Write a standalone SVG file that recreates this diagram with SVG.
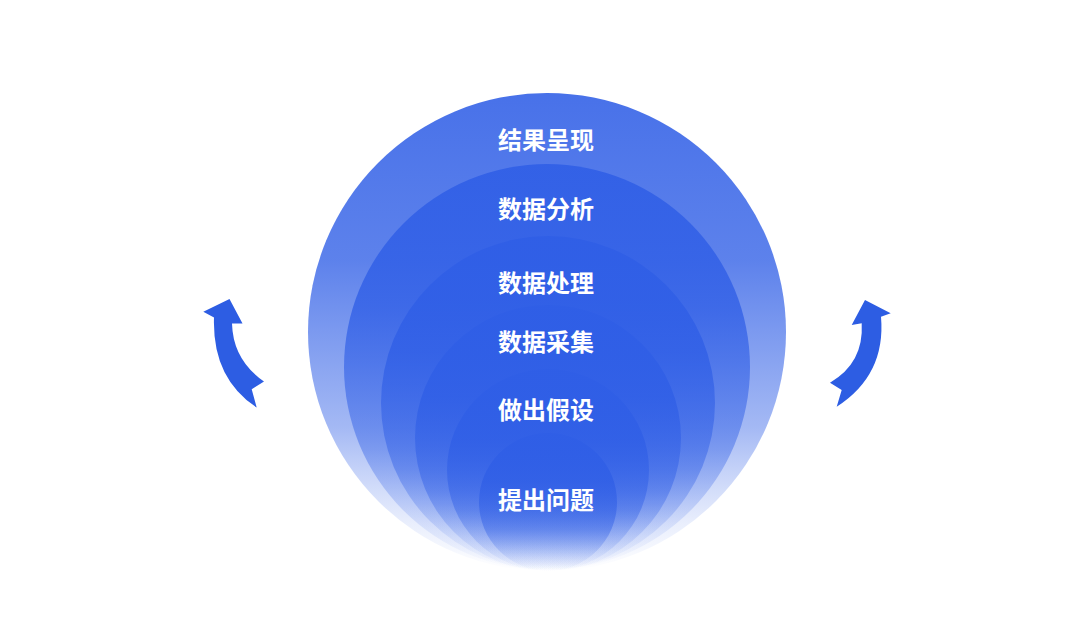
<svg xmlns="http://www.w3.org/2000/svg" width="1080" height="632" viewBox="0 0 1080 632">
  <defs>
    <linearGradient id="fade" x1="0" y1="0" x2="0" y2="1">
      <stop offset="0" stop-color="#2f5ee6" stop-opacity="0.88"/>
      <stop offset="0.35" stop-color="#2f5ee6" stop-opacity="0.78"/>
      <stop offset="0.7" stop-color="#3563e7" stop-opacity="0.45"/>
      <stop offset="0.9" stop-color="#4a74ea" stop-opacity="0.12"/>
      <stop offset="1" stop-color="#4a74ea" stop-opacity="0"/>
    </linearGradient>
  </defs>
  <style>
    .ring { fill: url(#fade); }
    .lbl { font-family: "Noto Sans CJK SC", "Noto Sans", sans-serif; font-size: 24px; font-weight: 700; fill: #ffffff; text-anchor: middle; dominant-baseline: central; }
    .arrow { fill: #2d5de3; }
  </style>
  <rect width="1080" height="632" fill="#ffffff"/>
  <g id="n1-result"><circle class="ring" cx="547" cy="332" r="239"/><text class="lbl" x="546" y="138">结果呈现</text></g>
  <g id="n2-analysis"><circle class="ring" cx="547" cy="367" r="203"/><text class="lbl" x="546" y="207">数据分析</text></g>
  <g id="n3-processing"><circle class="ring" cx="548" cy="403" r="167"/><text class="lbl" x="546" y="281">数据处理</text></g>
  <g id="n4-collection"><circle class="ring" cx="548" cy="438" r="133"/><text class="lbl" x="546" y="340">数据采集</text></g>
  <g id="n5-hypothesis"><circle class="ring" cx="548" cy="470" r="101"/><text class="lbl" x="546" y="408">做出假设</text></g>
  <g id="n6-question"><circle class="ring" cx="548" cy="502" r="69"/><text class="lbl" x="546" y="498">提出问题</text></g>
  <g id="connectors">
    <path class="arrow" d="M229.5 299 L242.5 323.5 L232 323.5 Q233 360 264 381.5 L251.7 389.3 L256.7 407.5 Q212 378 214 317.5 L203.3 311.7 Z"/>
    <path class="arrow" d="M865 300 L890.7 313.3 L881 316.7 Q886 375 836.7 406.7 L841.7 390 L830 382.7 Q864 363 861.7 323.3 L851.7 325 Z"/>
  </g>
</svg>
